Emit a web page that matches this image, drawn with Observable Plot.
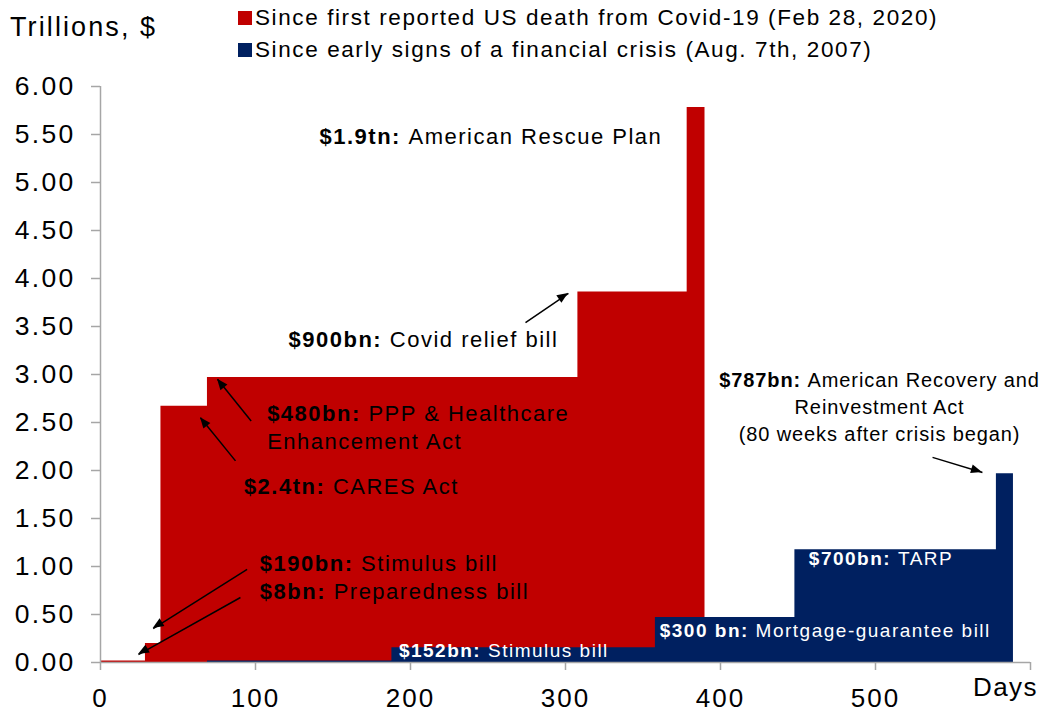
<!DOCTYPE html>
<html><head><meta charset="utf-8">
<script src="https://cdn.jsdelivr.net/npm/d3@7"></script>
<script src="https://cdn.jsdelivr.net/npm/@observablehq/plot@0.6"></script>
<style>
body{margin:0;background:#fff;font-family:"Liberation Sans",Arial,sans-serif;}
#wrap{position:relative;width:1046px;}
#head{position:relative;height:64px;}
.title{position:absolute;left:10px;top:12px;font-size:27px;letter-spacing:2.1px;line-height:30px;color:#000;}
.leg{position:absolute;left:238px;font-size:22.5px;letter-spacing:1.6px;line-height:26px;color:#000;display:flex;align-items:center;white-space:nowrap;}
.sw{width:14px;height:14px;margin-right:3px;flex:none;}
#chart svg text{letter-spacing:1.5px;}
#chart svg text.center-note{letter-spacing:0.9px;}
#chart g[aria-label="y-axis tick label"] text{letter-spacing:2.3px;}
#chart g[aria-label="x-axis tick label"] text{letter-spacing:2px;}
</style></head>
<body>
<div id="wrap">
  <div id="head"></div>
  <div id="chart"></div>
</div>
<script>
// ---- data ----
const seriesNames = [
  "Since first reported US death from Covid-19 (Feb 28, 2020)",
  "Since early signs of a financial crisis (Aug. 7th, 2007)"
];
const seriesColors = ["#C00000", "#002060"];
const covidDays   = [0, 29, 39, 69, 308, 378.5, 390];
const covidTotals = [0.015, 0.198, 2.67, 2.97, 3.86, 5.78, 5.78];
const gfcDays     = [69, 188, 358, 448, 578, 589];
const gfcTotals   = [0.015, 0.153, 0.469, 1.175, 1.967, 1.967];
const yTicks = [0, 0.5, 1, 1.5, 2, 2.5, 3, 3.5, 4, 4.5, 5, 5.5, 6];
const xTicks = [0, 100, 200, 300, 400, 500, 600];
const yTitle = "Trillions, $";
const xTitle = "Days";

// annotation texts ("bold|normal") and their anchor points (days, trillions)
const darkNotes = [
  {t: "$1.9tn:|American Rescue Plan", x: 141.3, y: 5.49},
  {t: "$900bn:|Covid relief bill", x: 121.3, y: 3.38},
  {t: "$480bn:|PPP & Healthcare\nEnhancement Act", x: 107.5, y: 2.46},
  {t: "$2.4tn:|CARES Act", x: 92.5, y: 1.845},
  {t: "$190bn:|Stimulus bill", x: 102.8, y: 1.045},
  {t: "$8bn:|Preparedness bill", x: 102.8, y: 0.75}
];
const centerNotes = [
  {t: "$787bn:|American Recovery and\nReinvestment Act\n(80 weeks after crisis began)", x: 502.6, y: 2.68}
];
const lightNotes = [
  {t: "$152bn:|Stimulus bill", x: 192.5, y: 0.125},
  {t: "$300 bn:|Mortgage-guarantee bill", x: 360.8, y: 0.333},
  {t: "$700bn:|TARP", x: 457, y: 1.08}
];
const arrows = [
  {x1: 274.2, y1: 3.54, x2: 301.9, y2: 3.845},
  {x1: 97.2, y1: 2.515, x2: 75.5, y2: 2.95},
  {x1: 87.1, y1: 2.10, x2: 64.5, y2: 2.55},
  {x1: 94.6, y1: 0.97, x2: 34, y2: 0.354},
  {x1: 90.3, y1: 0.677, x2: 24.5, y2: 0.083},
  {x1: 536.8, y1: 2.137, x2: 569, y2: 1.98}
];

// ---- header (title + legend) ----
const head = document.getElementById("head");
const tt = document.createElement("div");
tt.className = "title"; tt.textContent = yTitle; head.appendChild(tt);
seriesNames.forEach((n, i) => {
  const d = document.createElement("div");
  d.className = "leg"; d.style.top = (5 + i * 32) + "px";
  const s = document.createElement("span");
  s.className = "sw"; s.style.background = seriesColors[i];
  d.appendChild(s);
  d.appendChild(document.createTextNode(n));
  head.appendChild(d);
});

const covid = covidDays.map((d, i) => ({day: d, v: covidTotals[i]}));
const gfc = gfcDays.map((d, i) => ({day: d, v: gfcTotals[i]}));
const axisGray = "#A6A6A6";

const plot = Plot.plot({
  width: 1046, height: 649,
  marginTop: 22, marginLeft: 100, marginRight: 16, marginBottom: 51,
  style: {fontFamily: '"Liberation Sans", Arial, sans-serif', background: "#fff", color: "#000"},
  x: {domain: [0, 600]},
  y: {domain: [0, 6]},
  marks: [
    Plot.areaY(covid, {x: "day", y: "v", curve: "step-after", fill: seriesColors[0]}),
    Plot.areaY(gfc, {x: "day", y: "v", curve: "step-after", fill: seriesColors[1]}),
    Plot.ruleY([0], {stroke: axisGray, strokeWidth: 1.5}),
    Plot.ruleX([0], {stroke: axisGray, strokeWidth: 1.5}),
    Plot.axisY({ticks: yTicks, tickFormat: d3.format(".2f"), tickSize: 9, tickPadding: 16,
      fontSize: 26.5, label: null, stroke: axisGray, strokeWidth: 1.5, fill: "#000"}),
    Plot.axisX({ticks: xTicks, tickFormat: d => d === 600 ? "" : String(d), tickSize: 8, tickPadding: 18,
      fontSize: 26, label: null, stroke: axisGray, strokeWidth: 1.5, fill: "#000"}),
    Plot.text([{x: 600, y: 0, t: xTitle}], {x: "x", y: "y", text: "t", dx: -25, dy: 25,
      fontSize: 26, fill: "#000"}),
    Plot.link(arrows, {x1: "x1", y1: "y1", x2: "x2", y2: "y2", stroke: "#000", strokeWidth: 1.5}),
    Plot.text(darkNotes, {x: "x", y: "y", text: "t", textAnchor: "start", fontSize: 22,
      lineHeight: 1.27, fill: "#000"}),
    Plot.text(centerNotes, {x: "x", y: "y", text: "t", textAnchor: "middle", fontSize: 20,
      lineHeight: 1.35, fill: "#000"}),
    Plot.text(lightNotes, {x: "x", y: "y", text: "t", textAnchor: "start", fontSize: 19,
      fill: "#fff"})
  ]
});

// filled arrow heads, placed through the plot's own scales
const sx = plot.scale("x"), sy = plot.scale("y");
const svgSel = d3.select(plot.tagName.toLowerCase() === "svg" ? plot : plot.querySelector("svg"));
const heads = svgSel.append("g");
arrows.forEach(a => {
  const px1 = sx.apply(a.x1), py1 = sy.apply(a.y1), px2 = sx.apply(a.x2), py2 = sy.apply(a.y2);
  const L = Math.hypot(px2 - px1, py2 - py1), ux = (px2 - px1) / L, uy = (py2 - py1) / L;
  const hl = 11, hw = 4.5;
  const bx = px2 - hl * ux, by = py2 - hl * uy;
  heads.append("polygon")
    .attr("points", [[px2, py2], [bx - hw * uy, by + hw * ux], [bx + hw * uy, by - hw * ux]].map(p => p.join(",")).join(" "))
    .attr("fill", "#000");
});

// tighter spacing for the centred note
svgSel.selectAll("text").filter(function() { return this.textContent.includes("$787bn"); })
  .classed("center-note", true).style("letter-spacing", "0.9px");

// bold prefix before "|"
svgSel.selectAll("text, tspan").each(function() {
  if (this.querySelector("tspan")) return;
  const s = this.textContent;
  if (!s.includes("|")) return;
  const [b, n] = s.split("|");
  this.textContent = "";
  const sel = d3.select(this);
  sel.append("tspan").attr("font-weight", "bold").text(b + " ");
  sel.append("tspan").text(n);
});

document.getElementById("chart").appendChild(plot);
</script>
</body></html>
